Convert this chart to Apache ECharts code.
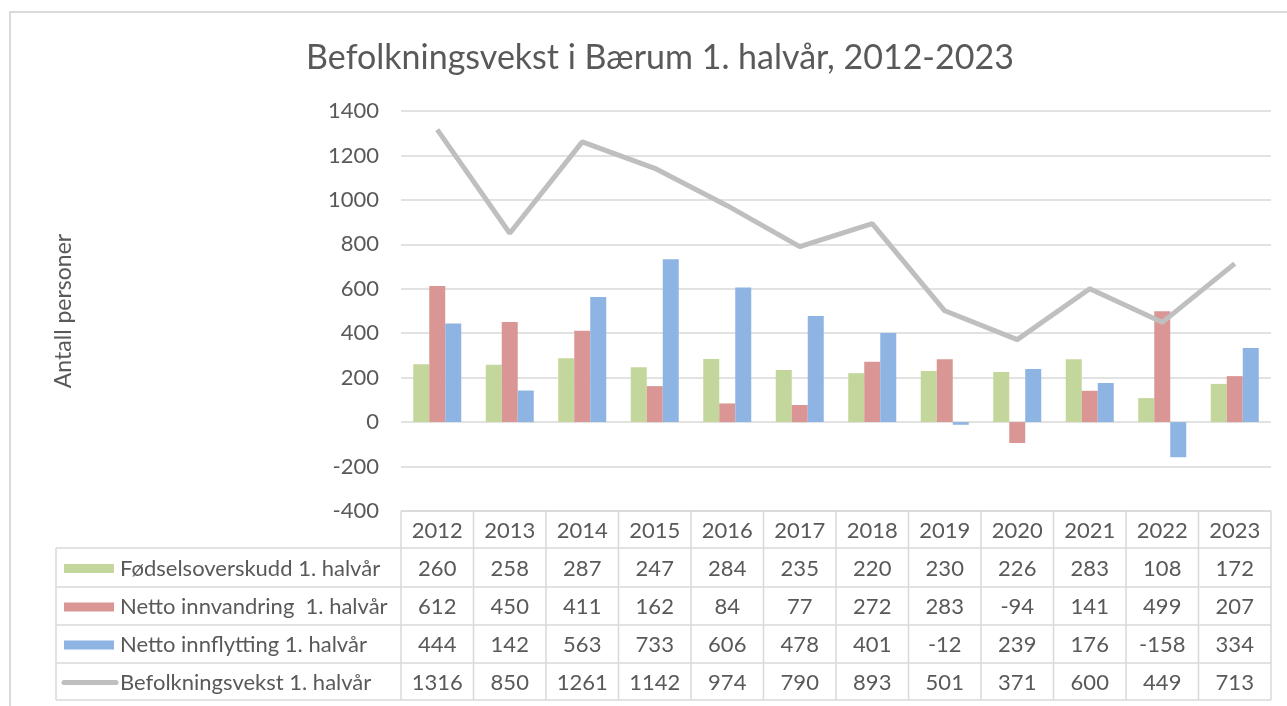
<!DOCTYPE html>
<html>
<head>
<meta charset="utf-8">
<script src="https://cdn.jsdelivr.net/npm/echarts@6/dist/echarts.min.js"></script>
<style>
    html, body { margin: 0; padding: 0; background: #fff; }
    #chart { width: 1287px; height: 706px; }
</style>
</head>
<body>
<div id="chart"></div>
<script>
// data (lest av figuren / tabellen)
const years = ['2012', '2013', '2014', '2015', '2016', '2017', '2018', '2019', '2020', '2021', '2022', '2023'];
const fodselsoverskudd = [260, 258, 287, 247, 284, 235, 220, 230, 226, 283, 108, 172];
const nettoInnvandring = [612, 450, 411, 162, 84, 77, 272, 283, -94, 141, 499, 207];
const nettoInnflytting = [444, 142, 563, 733, 606, 478, 401, -12, 239, 176, -158, 334];
const befolkningsvekst = [1316, 850, 1261, 1142, 974, 790, 893, 501, 371, 600, 449, 713];
const yTicks = [-400, -200, 0, 200, 400, 600, 800, 1000, 1200, 1400];

const seriesNames = ['Fødselsoverskudd 1. halvår', 'Netto innvandring  1. halvår', 'Netto innflytting 1. halvår', 'Befolkningsvekst 1. halvår'];
const colors = ['#c3d69b', '#d99694', '#8eb4e3', '#bfbfbf'];
const rows = [fodselsoverskudd, nettoInnvandring, nettoInnflytting, befolkningsvekst];

const font = 'Lato, "Open Sans", sans-serif';
const textColor = '#595959';
const lineColor = '#d9d9d9';

const chartDom = document.getElementById('chart');
const chart = echarts.init(chartDom);

const option = {
    animation: false,
    textStyle: { fontFamily: font },
    title: {
        text: 'Befolkningsvekst i Bærum 1. halvår, 2012-2023',
        left: 655,
        textAlign: 'center',
        top: 36,
        textStyle: { fontSize: 34, fontWeight: 'normal', color: textColor, fontFamily: font }
    },
    grid: { left: 401, right: 16, top: 111, bottom: 195 },
    xAxis: {
        type: 'category',
        data: years,
        axisLine: { show: false },
        axisTick: { show: false },
        axisLabel: { show: false }
    },
    yAxis: {
        type: 'value',
        min: yTicks[0],
        max: yTicks[yTicks.length - 1],
        interval: 200,
        name: 'Antall personer',
        nameLocation: 'middle',
        nameGap: 326,
        nameRotate: 90,
        nameTextStyle: { fontSize: 23, color: textColor },
        axisLine: { show: false },
        axisTick: { show: false },
        axisLabel: { fontSize: 22, color: textColor, margin: 22, formatter: v => String(v) },
        splitLine: { lineStyle: { color: lineColor, width: 1.5 } }
    },
    series: [
        { name: seriesNames[0], type: 'bar', data: fodselsoverskudd, barWidth: 16, barGap: '0%', itemStyle: { color: colors[0] } },
        { name: seriesNames[1], type: 'bar', data: nettoInnvandring, barWidth: 16, barGap: '0%', itemStyle: { color: colors[1] } },
        { name: seriesNames[2], type: 'bar', data: nettoInnflytting, barWidth: 16, barGap: '0%', itemStyle: { color: colors[2] } },
        { name: seriesNames[3], type: 'line', data: befolkningsvekst, showSymbol: false, z: 5,
          lineStyle: { color: colors[3], width: 5 }, itemStyle: { color: colors[3] } }
    ]
};
chart.setOption(option);

// datatabell under diagrammet
const buildTable = () => {
    const g = [];
    const gridLeft = 401, gridRight = 1271;
    const colW = (gridRight - gridLeft) / years.length;
    const tableLeft = 56;
    const rowY = [511, 548, 587, 625, 663, 700];
    const line = (x1, y1, x2, y2) => g.push({
        type: 'line', shape: { x1: x1, y1: y1, x2: x2, y2: y2 },
        style: { stroke: lineColor, lineWidth: 1.5 }, silent: true
    });
    const text = (x, y, s, align) => g.push({
        type: 'text', x: x, y: y,
        style: { text: s, fill: textColor, font: '22px ' + font, align: align || 'center', verticalAlign: 'middle' },
        silent: true
    });

    // ytre ramme
    g.push({ type: 'rect', shape: { x: 10, y: 12, width: 1300, height: 720 },
        style: { fill: null, stroke: lineColor, lineWidth: 2 }, silent: true });

    // horisontale linjer
    line(gridLeft, rowY[0], gridRight, rowY[0]);
    for (let r = 1; r < rowY.length; r++) line(tableLeft, rowY[r], gridRight, rowY[r]);
    // vertikale linjer
    line(tableLeft, rowY[1], tableLeft, rowY[5]);
    for (let i = 0; i <= years.length; i++) {
        const x = gridLeft + i * colW;
        line(x, rowY[0], x, rowY[5]);
    }

    // årstall
    years.forEach((y, i) => {
        const cx = chart.convertToPixel({ xAxisIndex: 0 }, y);
        text(cx, (rowY[0] + rowY[1]) / 2 + 1, y);
    });
    // verdier og forklaring
    rows.forEach((vals, r) => {
        const cy = (rowY[r + 1] + rowY[r + 2]) / 2 + 1;
        vals.forEach((v, i) => {
            const cx = chart.convertToPixel({ xAxisIndex: 0 }, years[i]);
            text(cx, cy, String(v));
        });
        if (r < 3) {
            g.push({ type: 'rect', shape: { x: 64, y: cy - 4.5, width: 50, height: 9 },
                style: { fill: colors[r] }, silent: true });
        } else {
            g.push({ type: 'line', shape: { x1: 64, y1: cy, x2: 116, y2: cy },
                style: { stroke: colors[r], lineWidth: 5, lineCap: 'round' }, silent: true });
        }
        text(120, cy, seriesNames[r], 'left');
    });
    chart.setOption({ graphic: g });
};
buildTable();
</script>
</body>
</html>
